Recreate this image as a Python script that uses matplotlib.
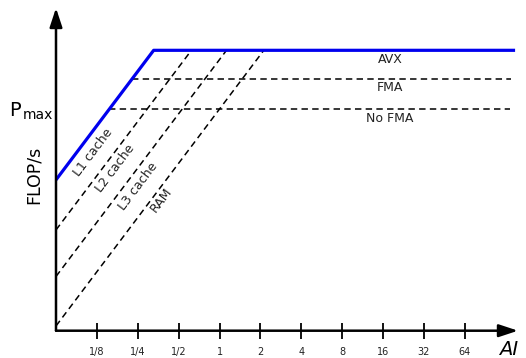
import numpy as np
import matplotlib
matplotlib.use('Agg')
import matplotlib.pyplot as plt
from matplotlib.ticker import NullLocator

# roofline values (arbitrary units)
peak_names = ['AVX', 'FMA', 'No FMA']
peaks = [36.0, 25.0, 17.0]
mem_names = ['L1 cache', 'L2 cache', 'L3 cache', 'RAM']
bandwidths = [110.0, 58.0, 32.0, 17.0]
tick_vals = [1/8, 1/4, 1/2, 1, 2, 4, 8, 16, 32, 64]
tick_labels = ['1/8', '1/4', '1/2', '1', '2', '4', '8', '16', '32', '64']
# label anchors (AI, FLOP/s) for the bandwidth texts
mem_label_x = [0.117, 0.171, 0.2525, 0.374]
mem_label_y = [9.8, 8.0, 6.3, 5.3]

ai_min, ai_max = 1/16, 2**7.3
ai_roof_end = 150
ai_dash_end = [140, 137]

W, H = 526, 358
fig = plt.figure(figsize=(W/100, H/100), dpi=100)
ax = fig.add_axes([56/W, (H-330.7)/H, (518-56)/W, (330.7-8)/H])
ax.set_xscale('log', base=2)
ax.set_yscale('log', base=2)
ax.set_xlim(ai_min, ai_max)
ax.set_ylim(1, 2**5.95)

for s in ax.spines.values():
    s.set_visible(False)

dash = (0, (4.2, 2.8))

# L1 roof in blue
avx = peaks[0]
l1 = bandwidths[0]
ax.plot([ai_min, avx/l1, ai_roof_end], [l1*ai_min, avx, avx],
        color='#0000ee', lw=2.3, solid_capstyle='butt', zorder=3)

# other memory levels
for bw in bandwidths[1:]:
    ax.plot([ai_min, avx/bw], [bw*ai_min, avx], color='k', lw=1.1,
            linestyle=dash, zorder=2)

# lower compute ceilings
for p, xe in zip(peaks[1:], ai_dash_end):
    ax.plot([p/l1, xe], [p, p], color='k', lw=1.1, linestyle=dash, zorder=2)

# labels
for name, p in zip(peak_names, peaks):
    ax.annotate(name, xy=(18, p), xytext=(0, -6.5), textcoords='offset points',
                ha='center', va='center', fontsize=9, color='#222')

for name, x, y in zip(mem_names, mem_label_x, mem_label_y):
    ax.text(x, y, name, rotation=53, rotation_mode='anchor',
            ha='center', va='center', fontsize=9, color='#222')

# axes with arrows
arr = dict(arrowstyle='-|>,head_length=1.15,head_width=0.38', lw=1.8,
           color='k', shrinkA=0, shrinkB=0, mutation_scale=10)
ax.annotate('', xy=(1, 0), xytext=(0, 0), xycoords='axes fraction', arrowprops=arr)
ax.annotate('', xy=(0, 1), xytext=(0, 0), xycoords='axes fraction', arrowprops=arr)

ax.set_xticks(tick_vals)
ax.set_xticklabels(tick_labels)
ax.xaxis.set_minor_locator(NullLocator())
ax.set_yticks([])
ax.yaxis.set_minor_locator(NullLocator())
ax.tick_params(axis='x', direction='inout', length=11, width=1.3,
               labelsize=7, pad=6, labelcolor='#222')

# outside texts
fig.text(9/W, (H-116)/H, 'P', fontsize=14, va='baseline', ha='left')
fig.text(23/W, (H-119)/H, 'max', fontsize=10, va='baseline', ha='left')
fig.text(34/W, (H-175)/H, 'FLOP/s', fontsize=12.5, rotation=90,
         ha='center', va='center')
fig.text(499/W, (H-355)/H, 'AI', fontsize=14, style='italic',
         ha='left', va='baseline')

fig.savefig('out.png', dpi=100)
